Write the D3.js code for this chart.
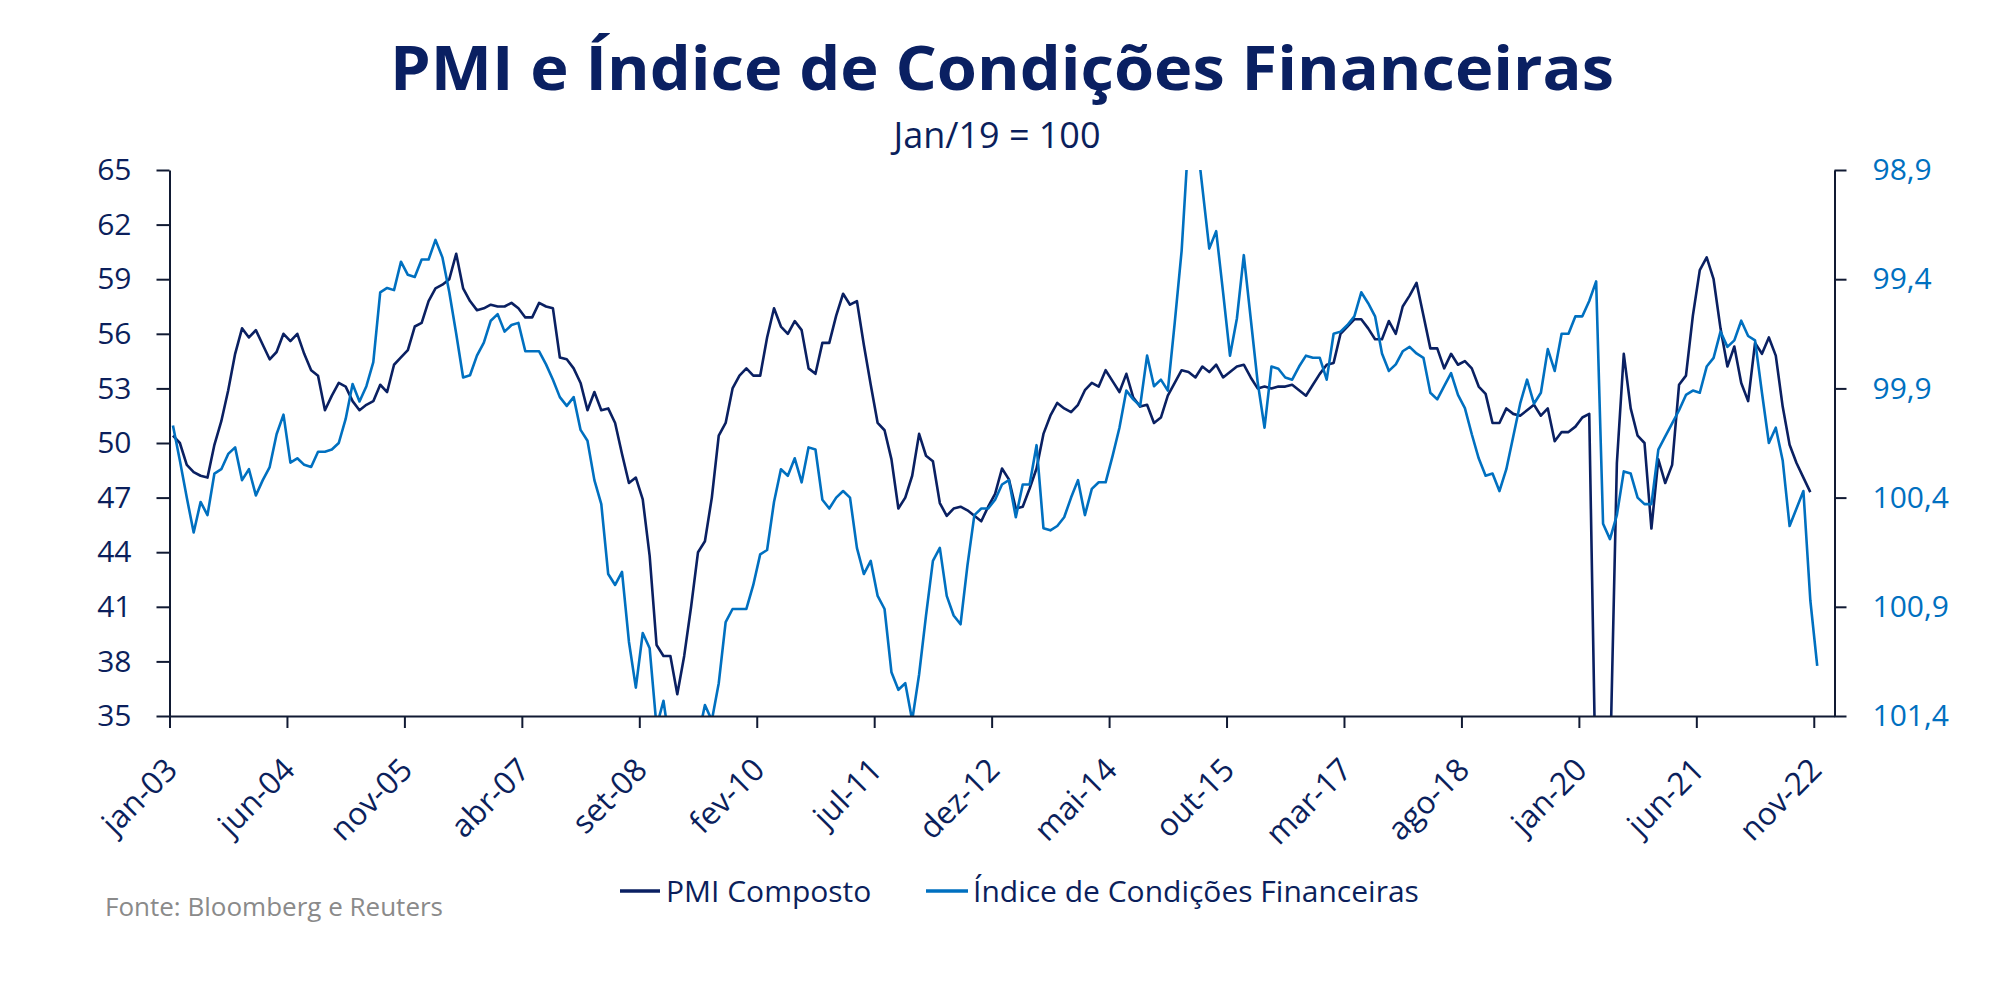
<!DOCTYPE html>
<html><head><meta charset="utf-8">
<script src="https://cdn.jsdelivr.net/npm/d3@7"></script>
<style>
html,body{margin:0;padding:0;background:#fff;}
svg{display:block;}
</style></head>
<body>
<svg id="chart" width="2000" height="996"></svg>
<script>
// ---------- DATA ----------
const monthAbbr = ["jan","fev","mar","abr","mai","jun","jul","ago","set","out","nov","dez"];
const firstYear = 2003;
const nMonths = 241; // axis span jan-03 .. jan-23

const xTickLabels = ["jan-03","jun-04","nov-05","abr-07","set-08","fev-10","jul-11","dez-12","mai-14","out-15","mar-17","ago-18","jan-20","jun-21","nov-22"];
const leftTicks = [35,38,41,44,47,50,53,56,59,62,65];
const rightTicks = [98.9,99.4,99.9,100.4,100.9,101.4];

// PMI Composto (jan-03 .. out-22)
const pmi = [
50.4,50.0,48.8,48.4,48.2,48.1,49.9,51.2,52.9,54.9,56.3,55.8,
56.2,55.4,54.6,55.0,56.0,55.6,56.0,54.9,54.0,53.7,51.8,52.6,
53.3,53.1,52.3,51.8,52.1,52.3,53.2,52.8,54.3,54.7,55.1,56.4,
56.6,57.8,58.5,58.7,59.0,60.4,58.5,57.8,57.3,57.4,57.6,57.5,
57.5,57.7,57.4,56.9,56.9,57.7,57.5,57.4,54.7,54.6,54.1,53.3,
51.8,52.8,51.8,51.9,51.1,49.4,47.8,48.1,46.9,43.8,38.9,38.3,
38.3,36.2,38.3,41.0,44.0,44.6,47.0,50.4,51.1,53.0,53.7,54.1,
53.7,53.7,55.8,57.4,56.4,56.0,56.7,56.2,54.1,53.8,55.5,55.5,
57.0,58.2,57.6,57.8,55.4,53.2,51.1,50.7,49.1,46.4,47.0,48.2,
50.5,49.3,49.0,46.7,46.0,46.4,46.5,46.3,46.0,45.7,46.5,47.2,
48.6,48.0,46.4,46.5,47.5,48.6,50.5,51.5,52.2,51.9,51.7,52.1,
52.9,53.3,53.1,54.0,53.4,52.8,53.8,52.5,52.0,52.1,51.1,51.4,
52.6,53.3,54.0,53.9,53.6,54.2,53.9,54.3,53.6,53.9,54.2,54.3,
53.6,53.0,53.1,53.0,53.1,53.1,53.2,52.9,52.6,53.2,53.8,54.3,
54.4,56.0,56.4,56.8,56.8,56.3,55.7,55.7,56.7,56.0,57.5,58.1,
58.8,57.0,55.2,55.2,54.1,54.9,54.3,54.5,54.1,53.1,52.7,51.1,
51.1,51.9,51.6,51.5,51.8,52.1,51.5,51.9,50.1,50.6,50.6,50.9,
51.4,51.6,29.7,13.6,31.9,48.9,54.9,51.9,50.4,50.0,45.3,49.1,
47.8,48.8,53.2,53.7,57.0,59.5,60.2,59.0,56.3,54.2,55.3,53.3,
52.3,55.5,54.9,55.8,54.8,52.0,49.9,48.9,48.1,47.3
];

// Índice de Condições Financeiras (jan-03 .. nov-22), Jan/19 = 100
const fci = [
100.07,100.23,100.40,100.56,100.42,100.48,100.29,100.27,100.20,100.17,100.32,100.27,
100.39,100.32,100.26,100.11,100.02,100.24,100.22,100.25,100.26,100.19,100.19,100.18,
100.15,100.04,99.88,99.96,99.89,99.78,99.46,99.44,99.45,99.32,99.38,99.39,
99.31,99.31,99.22,99.30,99.46,99.65,99.85,99.84,99.75,99.69,99.59,99.56,
99.64,99.61,99.60,99.73,99.73,99.73,99.79,99.86,99.94,99.98,99.94,100.09,
100.14,100.32,100.43,100.75,100.80,100.74,101.06,101.27,101.02,101.09,101.45,101.33,
101.55,101.65,101.70,101.60,101.50,101.35,101.42,101.25,100.97,100.91,100.91,100.91,
100.80,100.66,100.64,100.42,100.27,100.30,100.22,100.33,100.17,100.18,100.41,100.45,
100.40,100.37,100.40,100.63,100.75,100.69,100.85,100.91,101.20,101.28,101.25,101.42,
101.21,100.94,100.69,100.63,100.85,100.94,100.98,100.71,100.48,100.45,100.45,100.41,
100.34,100.32,100.49,100.34,100.34,100.16,100.54,100.55,100.53,100.49,100.40,100.32,
100.48,100.36,100.33,100.33,100.21,100.08,99.91,99.95,99.98,99.75,99.89,99.86,
99.91,99.60,99.27,98.75,98.70,98.98,99.26,99.18,99.46,99.75,99.58,99.29,
99.58,99.87,100.08,99.80,99.81,99.85,99.86,99.80,99.75,99.76,99.76,99.86,
99.65,99.64,99.61,99.57,99.46,99.51,99.57,99.74,99.82,99.79,99.73,99.71,
99.74,99.76,99.92,99.95,99.89,99.83,99.93,99.99,100.11,100.22,100.30,100.29,
100.37,100.27,100.12,99.97,99.86,99.97,99.92,99.72,99.82,99.65,99.65,99.57,
99.57,99.50,99.41,100.52,100.59,100.48,100.28,100.29,100.40,100.43,100.43,100.18,
100.12,100.06,100.00,99.93,99.91,99.92,99.80,99.76,99.64,99.71,99.68,99.59,
99.66,99.68,99.92,100.15,100.08,100.23,100.53,100.45,100.37,100.87,101.17
];

const categories = d3.range(nMonths).map(i =>
  monthAbbr[i % 12] + "-" + String((firstYear + Math.floor(i / 12)) % 100).padStart(2, "0"));

// ---------- LAYOUT ----------
const navy = "#0b1f5c", blue = "#0070c0", axisCol = "#111a33";
const L = 169.5, R = 1834.5, T = 170, B = 716;

const svg = d3.select("#chart");
const x = d3.scaleLinear().domain([0, nMonths]).range([L, R]);
const yL = d3.scaleLinear().domain([35, 65]).range([B, T]);
const yR = d3.scaleLinear().domain([98.9, 101.4]).range([T, B]);

// title
svg.append("text").attr("x", 1002).attr("y", 90)
  .attr("text-anchor", "middle")
  .attr("font-family", "'Open Sans', sans-serif").attr("font-weight", 700)
  .attr("font-size", 60).attr("fill", "#0a2062")
  .attr("textLength", 1224).attr("lengthAdjust", "spacingAndGlyphs")
  .text("PMI e Índice de Condições Financeiras");
svg.append("text").attr("x", 997).attr("y", 148)
  .attr("text-anchor", "middle")
  .attr("font-family", "'Open Sans', sans-serif")
  .attr("font-size", 37).attr("fill", navy)
  .attr("textLength", 207).attr("lengthAdjust", "spacingAndGlyphs")
  .text("Jan/19 = 100");

// clip
svg.append("defs").append("clipPath").attr("id", "plotClip")
  .append("rect").attr("x", L).attr("y", T).attr("width", R - L).attr("height", B - T);

// lines
const g = svg.append("g").attr("clip-path", "url(#plotClip)");
const linePmi = d3.line().x((d, i) => x(i + 0.5)).y(d => yL(d));
const lineFci = d3.line().x((d, i) => x(i + 0.5)).y(d => yR(d));
g.append("path").datum(pmi).attr("d", linePmi)
  .attr("fill", "none").attr("stroke", "#0a2062").attr("stroke-width", 2.6)
  .attr("stroke-linejoin", "round");
g.append("path").datum(fci).attr("d", lineFci)
  .attr("fill", "none").attr("stroke", blue).attr("stroke-width", 2.6)
  .attr("stroke-linejoin", "round");

// axes
function styleAxis(sel, color) {
  sel.selectAll(".domain").attr("stroke", axisCol).attr("stroke-width", 2);
  sel.selectAll(".tick line").attr("stroke", axisCol).attr("stroke-width", 2);
  sel.selectAll(".tick text").attr("fill", color)
    .attr("font-family", "'Open Sans', sans-serif").attr("font-size", 30);
}
const axL = svg.append("g").attr("transform", `translate(${L},0)`)
  .call(d3.axisLeft(yL).tickValues(leftTicks).tickSize(13).tickSizeOuter(0).tickPadding(25).tickFormat(d3.format("d")));
styleAxis(axL, navy);

const axR = svg.append("g").attr("transform", `translate(${R},0)`)
  .call(d3.axisRight(yR).tickValues(rightTicks).tickSize(12).tickSizeOuter(0).tickPadding(26)
    .tickFormat(d => d3.format(".1f")(d).replace(".", ",")));
styleAxis(axR, blue);

const xTickIdx = xTickLabels.map(lbl => categories.indexOf(lbl));
const axB = svg.append("g").attr("transform", `translate(0,${B})`)
  .call(d3.axisBottom(x).tickValues(xTickIdx).tickSize(12).tickSizeOuter(0).tickFormat(""));
styleAxis(axB, navy);

svg.append("g").selectAll("text").data(xTickIdx).join("text")
  .attr("transform", d => `translate(${x(d) + 2},${B + 48}) rotate(-45)`)
  .attr("text-anchor", "end").attr("dy", "0.35em")
  .attr("font-family", "'Open Sans', sans-serif").attr("font-size", 31.5).attr("fill", navy)
  .text(d => categories[d]);

// legend
const leg = svg.append("g");
const legendItems = [
  {label: "PMI Composto", color: "#0a2062", x1: 620, x2: 660, tx: 666},
  {label: "Índice de Condições Financeiras", color: blue, x1: 926, x2: 968, tx: 973}
];
legendItems.forEach(it => {
  leg.append("line").attr("x1", it.x1).attr("x2", it.x2).attr("y1", 891).attr("y2", 891)
    .attr("stroke", it.color).attr("stroke-width", 3.5);
  leg.append("text").attr("x", it.tx).attr("y", 891).attr("dy", "0.35em")
    .attr("font-family", "'Open Sans', sans-serif").attr("font-size", 30).attr("fill", navy)
    .text(it.label);
});

// source
svg.append("text").attr("x", 105).attr("y", 907).attr("dy", "0.35em")
  .attr("font-family", "'Open Sans', sans-serif").attr("font-size", 26).attr("fill", "#8a8a8a")
  .text("Fonte: Bloomberg e Reuters");
</script>
</body></html>
